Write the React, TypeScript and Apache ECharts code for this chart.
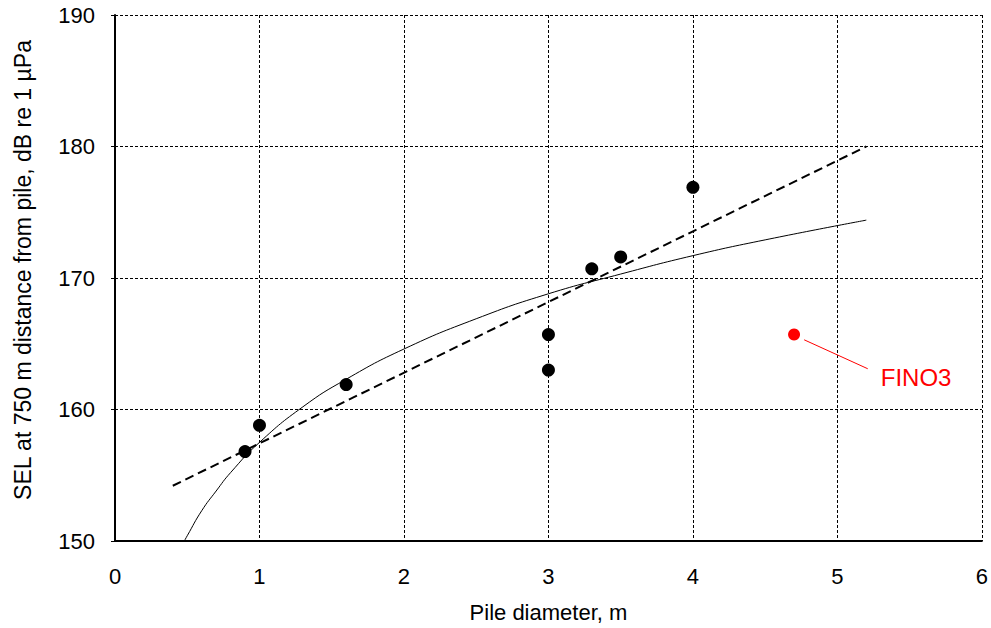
import React, { useEffect, useRef } from "react";
import * as echarts from "echarts";

// Measured SEL at 750 m for different pile diameters
const pileDiameters = [0.9, 1.0, 1.6, 3.0, 3.0, 3.3, 3.5, 4.0];
const selValues = [156.8, 158.8, 161.9, 165.7, 163.0, 170.7, 171.6, 176.9];

// FINO3 measurement (highlighted)
const finoDiameter = [4.7];
const finoSel = [165.7];
const finoLeaderX = [4.77, 5.21];
const finoLeaderY = [165.3, 163.1];
const finoLabel = "FINO3";

// Linear trend (dashed)
const linearX = [0.4, 5.2];
const linearY = [154.2, 180.0];

// Logarithmic trend (solid), sampled along the curve
const logX = [0.48, 0.5, 0.6, 0.7, 0.8, 1.0, 1.3, 1.6, 2.0, 2.5, 3.0, 3.5, 4.0, 4.5, 5.2];
const logY = [150.0, 150.4, 152.3, 153.8, 155.2, 157.5, 160.2, 162.3, 164.6, 166.9, 168.8, 170.3, 171.7, 172.9, 174.4];

const xTicks = [0, 1, 2, 3, 4, 5, 6];
const yTicks = [150, 160, 170, 180, 190];

const xTitle = "Pile diameter, m";
const yTitle = "SEL at 750 m distance from pile, dB re 1 \u00b5Pa";

const zip = (a: number[], b: number[]) => a.map((v, i) => [v, b[i]]);

const FONT = "'Liberation Sans', Arial, sans-serif";

export default function App() {
  const ref = useRef<HTMLDivElement>(null);

  useEffect(() => {
    if (!ref.current) return;
    const chart = echarts.init(ref.current, null, { renderer: "svg" });
    chart.setOption({
      animation: false,
      backgroundColor: "#ffffff",
      textStyle: { fontFamily: FONT },
      grid: { left: 115, right: 9, top: 15, bottom: 87 },
      graphic: [
        {
          type: "text",
          x: 23,
          y: 270,
          rotation: Math.PI / 2,
          style: {
            text: yTitle,
            fill: "#000",
            font: `23px ${FONT}`,
            textAlign: "center",
            textVerticalAlign: "middle",
          },
        },
      ],
      xAxis: {
        type: "value",
        min: xTicks[0],
        max: xTicks[xTicks.length - 1],
        interval: 1,
        name: xTitle,
        nameLocation: "middle",
        nameGap: 60,
        nameTextStyle: { color: "#000", fontSize: 22, fontFamily: FONT },
        axisLine: { show: true, onZero: false, lineStyle: { color: "#000", width: 2 } },
        axisTick: { show: false },
        axisLabel: { color: "#000", fontSize: 22, margin: 24, fontFamily: FONT },
        splitLine: { show: true, lineStyle: { color: "#000", width: 1, type: [3, 2] } },
      },
      yAxis: {
        type: "value",
        min: yTicks[0],
        max: yTicks[yTicks.length - 1],
        interval: 10,
        axisLine: { show: true, onZero: false, lineStyle: { color: "#000", width: 2 } },
        axisTick: { show: true, length: 4, lineStyle: { color: "#000" } },
        axisLabel: { color: "#000", fontSize: 22, margin: 20, fontFamily: FONT },
        splitLine: { show: true, lineStyle: { color: "#000", width: 1, type: [3, 2] } },
      },
      series: [
        {
          type: "line",
          data: zip(logX, logY),
          smooth: true,
          symbol: "none",
          lineStyle: { color: "#000", width: 1 },
          z: 3,
        },
        {
          type: "line",
          data: zip(linearX, linearY),
          symbol: "none",
          lineStyle: { color: "#000", width: 2, type: [9, 5] },
          z: 3,
        },
        {
          type: "scatter",
          data: zip(pileDiameters, selValues),
          symbol: "circle",
          symbolSize: 13,
          itemStyle: { color: "#000", opacity: 1 },
          z: 5,
        },
        {
          type: "line",
          data: zip(finoLeaderX, finoLeaderY),
          symbol: "none",
          lineStyle: { color: "#ff0000", width: 1 },
          z: 4,
        },
        {
          // label anchored at the end of the leader line
          type: "scatter",
          data: [[finoLeaderX[1], finoLeaderY[1]]],
          symbol: "circle",
          symbolSize: 2,
          itemStyle: { color: "rgba(255,255,255,0)", opacity: 1 },
          label: {
            show: true,
            position: "right",
            distance: 12,
            offset: [0, 9],
            formatter: finoLabel,
            color: "#ff0000",
            fontSize: 24,
            fontFamily: FONT,
          },
          z: 6,
        },
        {
          type: "scatter",
          data: zip(finoDiameter, finoSel),
          symbol: "circle",
          symbolSize: 12,
          itemStyle: { color: "#ff0000", opacity: 1 },
          z: 5,
        },
      ],
    });
    return () => chart.dispose();
  }, []);

  return <div ref={ref} style={{ width: 991, height: 628, position: "absolute", left: 0, top: 0 }} />;
}
